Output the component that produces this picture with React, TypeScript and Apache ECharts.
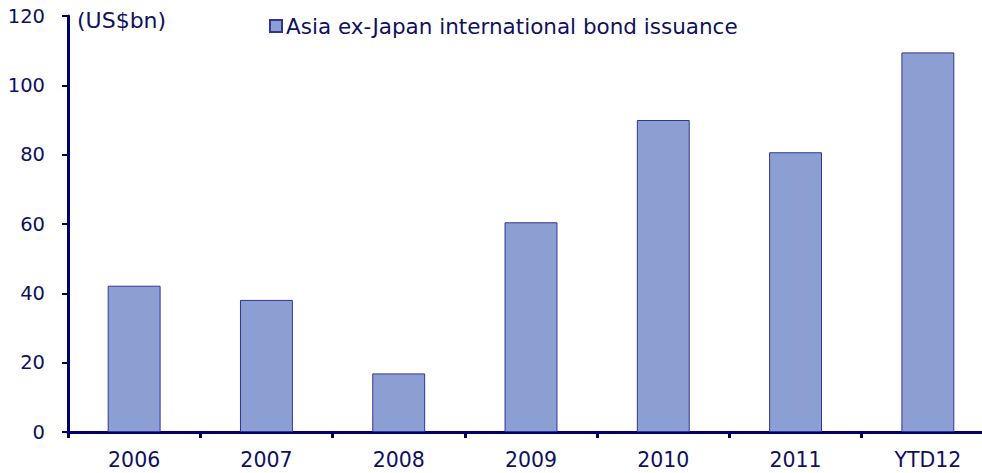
import React, { useEffect, useRef } from "react";
import * as echarts from "echarts";

const categories = ["2006", "2007", "2008", "2009", "2010", "2011", "YTD12"];
const issuance = [42.2, 38.1, 16.9, 60.5, 90.0, 80.7, 109.5];
const seriesName = "Asia ex-Japan international bond issuance";
const unitLabel = "(US$bn)";

const NAVY = "#000066";
const TEXT = "#10105e";
const FONT = "Verdana, 'DejaVu Sans', sans-serif";

export default function App() {
  const ref = useRef<HTMLDivElement>(null);
  useEffect(() => {
    if (!ref.current) return;
    const chart = echarts.init(ref.current, undefined, { renderer: "svg" });
    chart.setOption({
      animation: false,
      backgroundColor: "#ffffff",
      textStyle: { fontFamily: FONT },
      grid: { left: 68, top: 16, bottom: 41, width: 926, outerBoundsMode: "none", containLabel: false },
      legend: {
        data: [seriesName],
        left: 269,
        top: 15,
        padding: 0,
        itemWidth: 12,
        itemHeight: 12,
        itemGap: 4,
        icon: "rect",
        textStyle: { color: TEXT, fontSize: 21.5, fontFamily: FONT, padding: [0, 0, 0, -1] },
      },
      graphic: [
        {
          type: "text",
          left: 77,
          top: 9,
          style: { text: unitLabel, fill: TEXT, fontSize: 22, fontFamily: FONT },
        },
      ],
      xAxis: {
        type: "category",
        data: categories,
        axisLine: { lineStyle: { color: NAVY, width: 3 } },
        axisTick: { show: true, alignWithLabel: false, length: 6, lineStyle: { color: NAVY, width: 3 } },
        axisLabel: { color: TEXT, fontSize: 20.5, fontFamily: FONT, margin: 17 },
        splitLine: { show: false },
      },
      yAxis: {
        type: "value",
        min: 0,
        max: 120,
        interval: 20,
        axisLine: { show: true, lineStyle: { color: NAVY, width: 3 } },
        axisTick: { show: true, length: 6, lineStyle: { color: NAVY, width: 2 } },
        axisLabel: { color: TEXT, fontSize: 19.5, fontFamily: FONT, margin: 23 },
        splitLine: { show: false },
      },
      series: [
        {
          name: seriesName,
          type: "bar",
          data: issuance,
          barWidth: "40%",
          itemStyle: { color: "#8b9fd2", borderColor: "#333399", borderWidth: 1 },
        },
      ],
    });
    return () => chart.dispose();
  }, []);
  return <div ref={ref} style={{ width: 982, height: 473, position: "absolute", left: 0, top: 0 }} />;
}
